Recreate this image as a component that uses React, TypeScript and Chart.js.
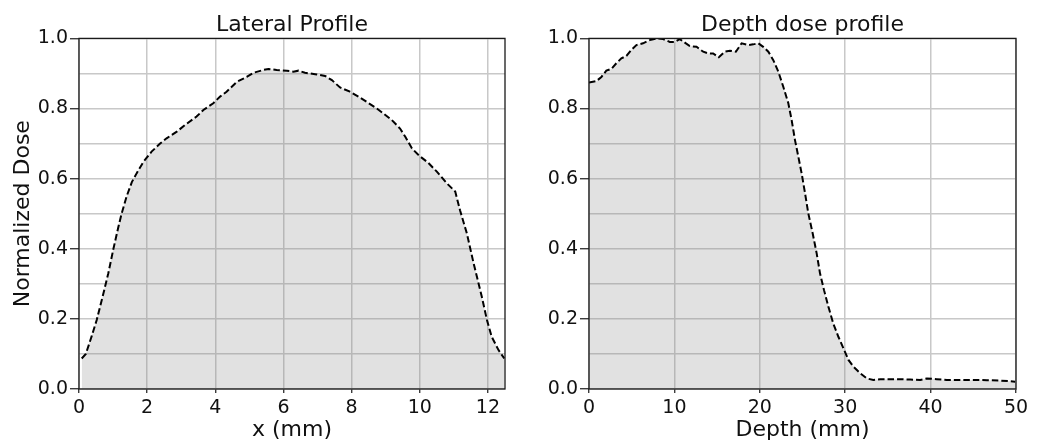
import React, { useEffect, useRef } from 'react';
import { Chart, registerables } from 'chart.js';

Chart.register(...registerables);

const lateralX = [0.08, 0.2, 0.37, 0.52, 0.71, 0.86, 1.01, 1.15, 1.25, 1.4, 1.55, 1.69, 1.89, 2.13, 2.38, 2.57, 2.87, 3.11, 3.45, 3.65, 3.94, 4.14, 4.33, 4.63, 4.92, 5.12, 5.41, 5.56, 5.8, 6.1, 6.29, 6.44, 6.63, 6.93, 7.22, 7.42, 7.66, 7.95, 8.2, 8.44, 8.74, 8.93, 9.18, 9.42, 9.57, 9.77, 10.0, 10.25, 10.5, 10.79, 11.04, 11.18, 11.38, 11.58, 11.82, 11.97, 12.11, 12.31, 12.48];
const lateralDose = [0.087, 0.1, 0.15, 0.197, 0.27, 0.33, 0.4, 0.46, 0.5, 0.55, 0.59, 0.615, 0.648, 0.677, 0.7, 0.715, 0.734, 0.753, 0.777, 0.796, 0.815, 0.834, 0.848, 0.876, 0.89, 0.902, 0.91, 0.913, 0.91, 0.908, 0.905, 0.908, 0.902, 0.898, 0.893, 0.881, 0.86, 0.848, 0.834, 0.819, 0.8, 0.786, 0.767, 0.743, 0.72, 0.686, 0.664, 0.645, 0.62, 0.587, 0.563, 0.51, 0.444, 0.358, 0.263, 0.197, 0.149, 0.111, 0.087];

const depthX = [0, 0.86, 1.45, 2.03, 2.62, 3.2, 3.79, 4.38, 4.96, 5.55, 6.33, 7.11, 7.9, 8.68, 9.46, 10.05, 10.63, 11.22, 11.8, 12.59, 13.37, 13.96, 14.54, 15.2, 15.9, 16.5, 17.2, 17.87, 18.65, 19.23, 19.82, 20.4, 21.0, 21.58, 22.17, 22.75, 23.34, 23.73, 24.12, 24.51, 24.9, 25.3, 25.68, 26.19, 26.66, 27.05, 27.52, 28.03, 28.6, 29.2, 29.79, 30.38, 30.96, 31.74, 32.53, 33.3, 34.1, 35.26, 36.43, 37.6, 38.78, 39.56, 40.7, 41.9, 43.47, 45.0, 46.6, 48.16, 49.9];
const depthDose = [0.874, 0.878, 0.89, 0.908, 0.913, 0.929, 0.943, 0.95, 0.967, 0.981, 0.986, 0.995, 1.0, 0.998, 0.99, 0.99, 0.998, 0.988, 0.978, 0.976, 0.962, 0.957, 0.957, 0.946, 0.962, 0.965, 0.962, 0.986, 0.981, 0.983, 0.986, 0.976, 0.962, 0.938, 0.905, 0.862, 0.815, 0.767, 0.71, 0.663, 0.615, 0.558, 0.501, 0.444, 0.387, 0.33, 0.282, 0.235, 0.187, 0.149, 0.116, 0.083, 0.064, 0.045, 0.03, 0.026, 0.028, 0.028, 0.028, 0.027, 0.026, 0.03, 0.028, 0.026, 0.026, 0.026, 0.025, 0.024, 0.021];

const chartTitles = ['Lateral Profile', 'Depth dose profile'];
const xAxisLabels = ['x (mm)', 'Depth (mm)'];
const yAxisLabel = 'Normalized Dose';

const FONT = 'DejaVu Sans';
const TEXT = '#111111';

const spinePlugin = {
  id: 'spines',
  afterDraw(chart: any) {
    const { ctx, chartArea: a } = chart;
    ctx.save();
    ctx.strokeStyle = '#1a1a1a';
    ctx.lineWidth = 1.3;
    ctx.strokeRect(a.left, a.top, a.right - a.left, a.bottom - a.top);
    ctx.restore();
  },
};

type Props = {
  xs: number[];
  ys: number[];
  title: string;
  xLabel: string;
  yLabel?: string;
  xMax: number;
  xStep: number;
  width: number;
  yWidth: number;
  padRight: number;
};

function ProfileChart({ xs, ys, title, xLabel, yLabel, xMax, xStep, width, yWidth, padRight }: Props) {
  const ref = useRef<HTMLCanvasElement | null>(null);
  useEffect(() => {
    if (!ref.current) return;
    const points = xs.map((x, i) => ({ x, y: ys[i] }));
    const chart = new Chart(ref.current, {
      type: 'line',
      data: {
        datasets: [
          {
            data: points,
            borderColor: '#000000',
            borderWidth: 2,
            borderDash: [6.5, 3],
            backgroundColor: 'rgba(128,128,128,0.24)',
            fill: 'origin',
            pointRadius: 0,
            tension: 0,
          },
        ],
      },
      options: {
        animation: false,
        responsive: false,
        layout: { padding: { left: 0, right: padRight, top: 0, bottom: 0 } },
        plugins: {
          legend: { display: false },
          tooltip: { enabled: false },
          title: {
            display: true,
            text: title,
            fullSize: false,
            color: TEXT,
            font: { family: FONT, size: 22, weight: 'normal' },
            padding: { top: 12, bottom: 0 },
          },
        },
        scales: {
          x: {
            type: 'linear',
            min: 0,
            max: xMax,
            afterFit: (s: any) => {
              s.height = 54;
            },
            border: { display: false },
            grid: {
              color: '#c8c8c8',
              lineWidth: 1.5,
              tickColor: '#1a1a1a',
              tickLength: 4,
              tickWidth: 1.2,
            },
            ticks: {
              stepSize: xStep,
              includeBounds: false,
              color: TEXT,
              padding: 4,
              maxRotation: 0,
              font: { family: FONT, size: 19 },
              callback: (v: any) => String(v),
            },
            title: {
              display: true,
              text: xLabel,
              color: TEXT,
              font: { family: FONT, size: 22 },
              padding: { top: 0, bottom: 0 },
            },
          },
          y: {
            type: 'linear',
            min: 0,
            max: 1,
            afterFit: (s: any) => {
              s.width = yWidth;
            },
            border: { display: false },
            grid: {
              color: '#c8c8c8',
              lineWidth: 1.5,
              tickColor: (c: any) => (c.tick && Math.round(c.tick.value * 10) % 2 === 0 ? '#1a1a1a' : 'rgba(0,0,0,0)'),
              tickLength: 9,
              tickWidth: 1.2,
            },
            ticks: {
              stepSize: 0.1,
              color: TEXT,
              padding: 2,
              font: { family: FONT, size: 19 },
              callback: (v: any) => (Math.round(Number(v) * 10) % 2 === 0 ? Number(v).toFixed(1) : ''),
            },
            title: {
              display: !!yLabel,
              text: yLabel || '',
              color: TEXT,
              font: { family: FONT, size: 22 },
              padding: { top: 10, bottom: 0 },
            },
          },
        },
      },
      plugins: [spinePlugin],
    } as any);
    return () => chart.destroy();
  }, []);
  return <canvas ref={ref} width={width} height={443} style={{ display: 'block', width, height: 443 }} />;
}

export default function App() {
  return (
    <div style={{ position: 'absolute', left: 0, top: 0, width: 1042, height: 443, background: '#fff', display: 'flex' }}>
      <ProfileChart
        xs={lateralX}
        ys={lateralDose}
        title={chartTitles[0]}
        xLabel={xAxisLabels[0]}
        yLabel={yAxisLabel}
        xMax={12.5}
        xStep={2}
        width={520}
        yWidth={79}
        padRight={15}
      />
      <ProfileChart
        xs={depthX}
        ys={depthDose}
        title={chartTitles[1]}
        xLabel={xAxisLabels[1]}
        xMax={50}
        xStep={10}
        width={522}
        yWidth={69}
        padRight={26}
      />
    </div>
  );
}
